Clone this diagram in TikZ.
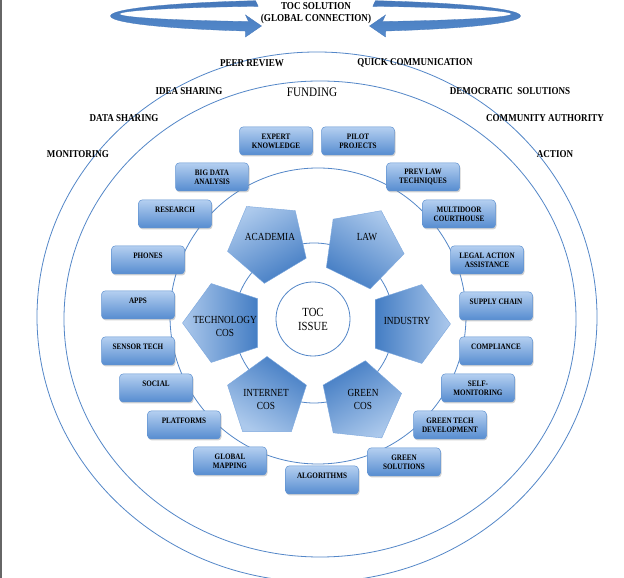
\documentclass[tikz,border=0pt]{standalone}
\usepackage{fontspec}
\setmainfont{Liberation Serif}[FakeStretch=0.86]
\usetikzlibrary{shapes.geometric,shadows}
\definecolor{lineblue}{RGB}{84,135,200}
\definecolor{boxtop}{RGB}{180,207,240}
\definecolor{boxbot}{RGB}{86,140,208}
\definecolor{boxedge}{RGB}{98,148,210}
\definecolor{pentdark}{RGB}{68,125,196}
\definecolor{pentlight}{RGB}{172,201,236}
\definecolor{pentedge}{RGB}{125,168,222}
\definecolor{arrdark}{RGB}{70,120,186}
\definecolor{arrmid}{RGB}{150,190,236}
\definecolor{arrlow}{RGB}{84,138,204}
\begin{document}
\begin{tikzpicture}[x=1pt,y=1pt,
  ring/.style={draw=lineblue, line width=0.8pt},
  boxnode/.style={rectangle, rounded corners=3.5pt, minimum width=73pt, minimum height=28pt,
    inner sep=0pt, draw=boxedge, line width=0.5pt, top color=boxtop, bottom color=boxbot,
    drop shadow={shadow xshift=1pt, shadow yshift=-1.5pt, opacity=0.35},
    font=\bfseries\fontsize{8.3}{9}\selectfont, align=center},
  pent/.style={regular polygon, regular polygon sides=5, minimum size=83pt, inner sep=0pt,
    draw=pentedge, line width=0.4pt, top color=pentdark, bottom color=pentlight},
  penttext/.style={font=\fontsize{10.8}{13}\selectfont, align=center, inner sep=0pt},
  outerlbl/.style={font=\bfseries\fontsize{10.5}{12}\selectfont, inner sep=0pt},
  arrowband/.style={top color=arrdark, middle color=arrmid, bottom color=arrlow, draw=arrdark, line width=0.3pt}
]
\clip (0,0) rectangle (624,578);
\fill[white] (0,0) rectangle (624,578);
\draw[gray!80!black, line width=1.5pt] (0.75,0) -- (0.75,578);

% top circular arrow
\begin{scope}[shift={(315.5,562)}]
  \path[arrowband] (107:205pt and 16pt) arc[start angle=107, end angle=250, x radius=205pt, y radius=16pt]
    -- (-70,-21) -- (-54,-10) -- (-70,1) -- (-67.0,-5.52)
    arc[start angle=250, end angle=107, x radius=196pt, y radius=8pt] -- cycle;
\end{scope}
\begin{scope}[shift={(315.5,562)}, xscale=-1]
  \path[arrowband] (107:205pt and 16pt) arc[start angle=107, end angle=250, x radius=205pt, y radius=16pt]
    -- (-70,-21) -- (-54,-10) -- (-70,1) -- (-67.0,-5.52)
    arc[start angle=250, end angle=107, x radius=196pt, y radius=8pt] -- cycle;
\end{scope}
\node[outerlbl, align=center, font=\bfseries\fontsize{10.6}{12}\selectfont] (sol) at (316,565) {TOC SOLUTION\\(GLOBAL CONNECTION)};

% big rings
\draw[ring] (317,261) ellipse[x radius=280pt, y radius=265pt];
\draw[ring] (320,259) ellipse[x radius=256pt, y radius=238pt];
\draw[ring] (318,262) circle[radius=148pt];
\draw[ring] (314,255) circle[radius=80pt];

% outer labels
\node[outerlbl] (peer) at (252,515) {PEER REVIEW};
\node[outerlbl] (quick) at (415,515) {QUICK COMMUNICATION};
\node[outerlbl] (idea) at (189,487) {IDEA SHARING};
\node[font=\fontsize{13}{15}\selectfont, inner sep=0pt] (fund) at (312,486) {FUNDING};
\node[outerlbl] (demo) at (510,487) {DEMOCRATIC\ \ SOLUTIONS};
\node[outerlbl] (data) at (124,460) {DATA SHARING};
\node[outerlbl] (comm) at (545,460) {COMMUNITY AUTHORITY};
\node[outerlbl] (mon) at (78,424) {MONITORING};
\node[outerlbl] (act) at (555,424) {ACTION};

% pentagons
\node[pent, shape border rotate=175, shading angle=-150] (acad) at (268,336) {};
\node[pent, shape border rotate=190, shading angle=-213] (law) at (363,330) {};
\node[pent, shape border rotate=-90, shading angle=90] (ind) at (409,254) {};
\node[pent, shape border rotate=-78, shading angle=31] (green) at (361,176) {};
\node[pent, shape border rotate=0, shading angle=-32] (inet) at (267,180) {};
\node[pent, shape border rotate=90, shading angle=-90] (tech) at (224,255) {};
\node[penttext] (acadt) at (270,341) {ACADEMIA};
\node[penttext] (lawt) at (367,341) {LAW};
\node[penttext] (indt) at (407,257) {INDUSTRY};
\node[penttext] (greent) at (363,178.5) {GREEN\\COS};
\node[penttext] (inett) at (266,178.5) {INTERNET\\COS};
\node[penttext] (techt) at (225,252) {TECHNOLOGY\\COS};

% center
\node[circle, draw=lineblue, line width=0.8pt, fill=white, minimum size=74pt, inner sep=0pt,
  font=\fontsize{12.4}{14}\selectfont, align=center] (toc) at (313,259) {TOC\\ISSUE};

% boxes
\node[boxnode] (ek) at (276,437) {EXPERT\\KNOWLEDGE};
\node[boxnode] (pp) at (358,437) {PILOT\\PROJECTS};
\node[boxnode] (bda) at (212,401) {BIG DATA\\ANALYSIS};
\node[boxnode] (res) at (175,364) {RESEARCH\\\mbox{}};
\node[boxnode] (pho) at (148,318) {PHONES\\\mbox{}};
\node[boxnode] (apps) at (138,273) {APPS\\\mbox{}};
\node[boxnode] (sens) at (138,227) {SENSOR TECH\\\mbox{}};
\node[boxnode] (soc) at (156,190) {SOCIAL\\\mbox{}};
\node[boxnode] (plat) at (184,153) {PLATFORMS\\\mbox{}};
\node[boxnode] (glob) at (230,117) {GLOBAL\\MAPPING};
\node[boxnode] (algo) at (322,98) {ALGORITHMS\\\mbox{}};
\node[boxnode] (gsol) at (404,116) {GREEN\\SOLUTIONS};
\node[boxnode] (gtd) at (450,153) {GREEN TECH\\DEVELOPMENT};
\node[boxnode] (self) at (478,190) {SELF-\\MONITORING};
\node[boxnode] (compl) at (496,227) {COMPLIANCE\\\mbox{}};
\node[boxnode] (sup) at (496,272) {SUPPLY CHAIN\\\mbox{}};
\node[boxnode] (legal) at (487,318) {LEGAL ACTION\\ASSISTANCE};
\node[boxnode] (multi) at (459,364) {MULTIDOOR\\COURTHOUSE};
\node[boxnode] (prev) at (423,401) {PREV LAW\\TECHNIQUES};
\end{tikzpicture}
\end{document}
